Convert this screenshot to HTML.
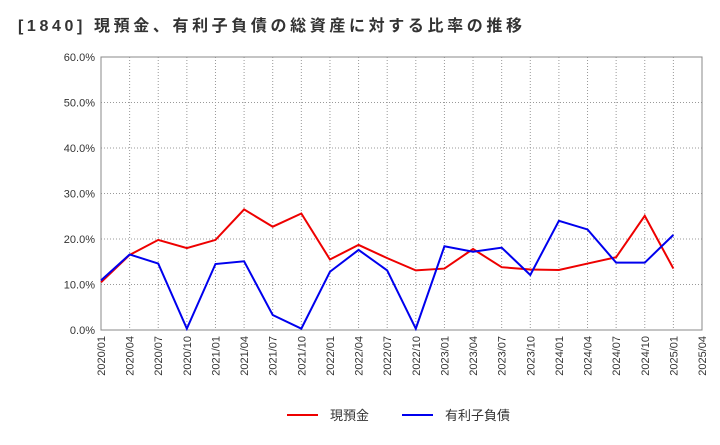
<!DOCTYPE html>
<html><head><meta charset="utf-8"><style>
body{margin:0;background:#fff;font-family:"Liberation Sans","Noto Sans CJK JP",sans-serif;}
</style></head><body>
<svg id="chart" width="720" height="440" xmlns="http://www.w3.org/2000/svg" font-family="Liberation Sans, Noto Sans CJK JP, sans-serif">
<text x="18" y="31" font-size="16" font-weight="bold" fill="#333" textLength="504" lengthAdjust="spacing">[1840]  現預金、有利子負債の総資産に対する比率の推移</text>
<g id="grid"></g>
<rect x="101" y="57" width="601" height="273" fill="none" stroke="#888"/>
<g id="axes"></g>
<g id="series"></g>
<g>
<line x1="287" y1="415" x2="318" y2="415" stroke="#e00" stroke-width="2"/>
<text x="330" y="420" font-size="13" fill="#333">現預金</text>
<line x1="402" y1="415" x2="433" y2="415" stroke="#00e" stroke-width="2"/>
<text x="445" y="420" font-size="13" fill="#333">有利子負債</text>
</g>
</svg>
<script>
const categories=["2020/01","2020/04","2020/07","2020/10","2021/01","2021/04","2021/07","2021/10","2022/01","2022/04","2022/07","2022/10","2023/01","2023/04","2023/07","2023/10","2024/01","2024/04","2024/07","2024/10","2025/01","2025/04"];
const cashValues=[10.5,16.5,19.8,18.0,19.8,26.5,22.7,25.6,15.5,18.7,15.8,13.1,13.5,17.8,13.8,13.3,13.2,14.6,16.0,25.1,13.5];
const debtValues=[10.9,16.6,14.6,0.3,14.5,15.1,3.3,0.3,12.8,17.6,13.1,0.3,18.4,17.2,18.1,12.1,24.0,22.1,14.8,14.8,20.9];
const yTicks=[0,10,20,30,40,50,60];
const X0=101,X1=702,Y0=330,Y1=57,YMAX=60;
const ns="http://www.w3.org/2000/svg";
function xs(i){return X0+(X1-X0)*i/(categories.length-1);}
function ys(v){return Y0-(Y0-Y1)*v/YMAX;}
function mk(tag,attrs,parent){const e=document.createElementNS(ns,tag);for(const k in attrs)e.setAttribute(k,attrs[k]);document.getElementById(parent).appendChild(e);return e;}
yTicks.forEach(t=>{
 const l=mk("line",{x1:X0,x2:X1,y1:ys(t),y2:ys(t),stroke:"#999","stroke-dasharray":"1,2"},"grid");
 
 
 const tx=mk("text",{x:X0-6,y:ys(t)+4,"text-anchor":"end","font-size":"11",fill:"#333"},"axes");
 tx.textContent=t.toFixed(1)+"%";
 
 
});
categories.forEach((c,i)=>{
 const l=mk("line",{x1:xs(i),x2:xs(i),y1:Y1,y2:Y0,stroke:"#999","stroke-dasharray":"1,2"},"grid");
 
 
 const tx=mk("text",{x:0,y:0,"text-anchor":"end","font-size":"11",fill:"#333",transform:`translate(${xs(i)+4},${Y0+6}) rotate(-90)`},"axes");
 tx.textContent=c;
 
 
});
function line(vals,color,name){
 const p=mk("polyline",{points:vals.map((v,i)=>xs(i)+","+ys(v)).join(" "),fill:"none",stroke:color,"stroke-width":"2"},"series");
 
 
}
line(cashValues,"#e00","cash-line");
line(debtValues,"#00e","debt-line");
</script>
</body></html>
